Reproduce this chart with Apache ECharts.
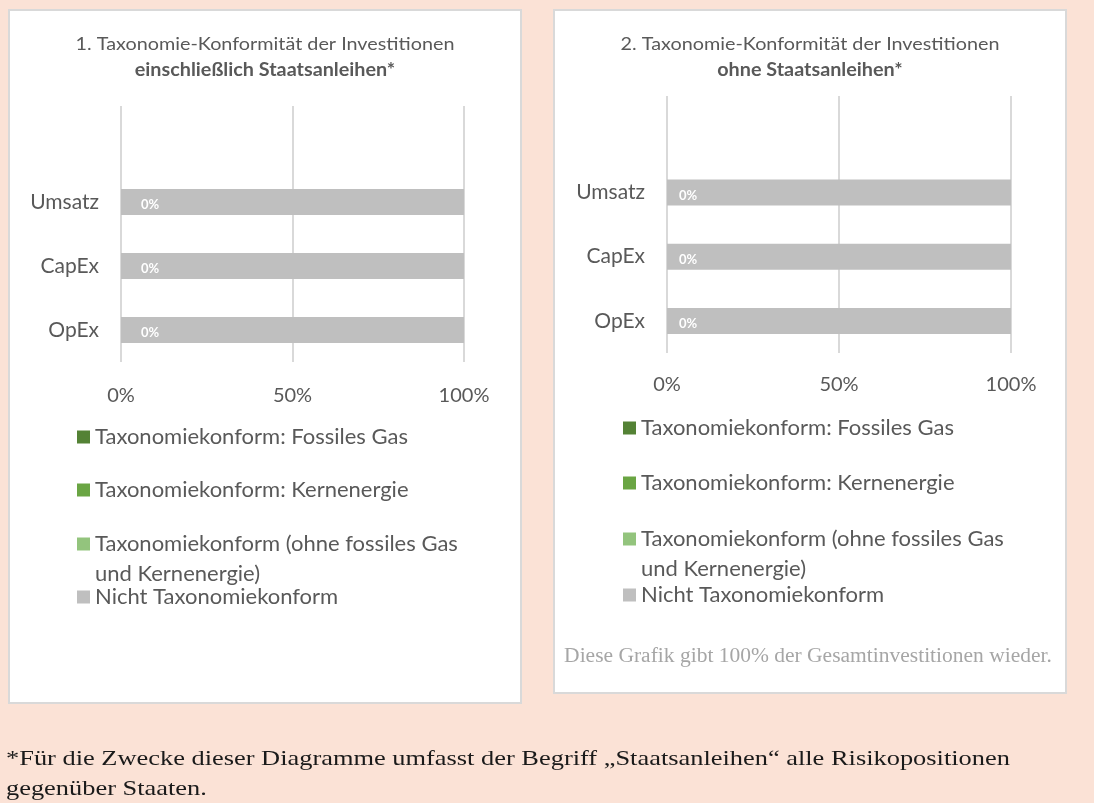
<!DOCTYPE html>
<html>
<head>
<meta charset="utf-8">
<title>Taxonomie-Konformität</title>
<script src="https://cdn.jsdelivr.net/npm/echarts@6.0.0/dist/echarts.min.js"></script>
<style>
  html, body { margin: 0; padding: 0; background: #fbe2d6; }
  .chart { width: 1094px; height: 803px; }
</style>
</head>
<body>
<div class="chart"></div>
<script>
// Daten
var categories = ["Umsatz", "CapEx", "OpEx"];
var seriesNames = [
  "Taxonomiekonform: Fossiles Gas",
  "Taxonomiekonform: Kernenergie",
  "Taxonomiekonform (ohne fossiles Gas und Kernenergie)",
  "Nicht Taxonomiekonform"
];
var xTicks = [0, 50, 100];
// 1. einschließlich Staatsanleihen
var gas1 = [0, 0, 0];
var nuclear1 = [0, 0, 0];
var aligned1 = [0, 0, 0];
var notAligned1 = [100, 100, 100];
// 2. ohne Staatsanleihen
var gas2 = [0, 0, 0];
var nuclear2 = [0, 0, 0];
var aligned2 = [0, 0, 0];
var notAligned2 = [100, 100, 100];

(function () {
  var myChart = echarts.init(document.querySelector(".chart"));
  var colors = ["#548235", "#6aa543", "#93c47d", "#bfbfbf"];
  var textColor = "#595959";
  var font = "Lato, 'Open Sans', sans-serif";
  var serif = "'Liberation Serif', 'Times New Roman', serif";

  // Excel-Diagramm hat oben eine leere Zeile
  var axisData = [""].concat(categories);

  function makeSeries(idx, rows, labelDist) {
    return rows.map(function (vals, i) {
      var isGreen = i < 3;
      return {
        name: seriesNames[i],
        type: "bar",
        stack: "s" + idx,
        xAxisIndex: idx,
        yAxisIndex: idx,
        barWidth: 26,
        z: isGreen ? 3 : 2,
        itemStyle: { color: colors[i] },
        label: {
          show: i === 2,
          position: "insideLeft",
          distance: labelDist,
          offset: [0, 3],
          formatter: "{c}%",
          color: "#ffffff",
          fontWeight: "bold",
          fontSize: 13,
          fontFamily: font
        },
        data: ["-"].concat(vals)
      };
    });
  }

  function makeX(idx, margin) {
    return {
      gridIndex: idx,
      type: "value",
      min: xTicks[0],
      max: xTicks[xTicks.length - 1],
      interval: xTicks[1] - xTicks[0],
      axisLine: { show: false },
      axisTick: { show: false },
      axisLabel: {
        formatter: "{value}%",
        color: textColor,
        fontSize: 20,
        fontFamily: font,
        margin: margin
      },
      splitLine: { lineStyle: { color: "#d9d9d9", width: 2 } }
    };
  }

  function makeY(idx) {
    return {
      gridIndex: idx,
      type: "category",
      inverse: true,
      data: axisData,
      axisLine: { show: false },
      axisTick: { show: false },
      splitLine: { show: false },
      axisLabel: {
        color: textColor,
        fontSize: 21,
        fontFamily: font,
        margin: 22
      }
    };
  }

  // Legende: je Eintrag eine eigene Zeile wie in Excel
  function makeLegends(left, centers) {
    return seriesNames.map(function (name, i) {
      var twoLines = i === 2;
      return {
        data: [name],
        orient: "vertical",
        left: left,
        top: twoLines ? centers[i] - 45 : centers[i] - 12,
        padding: 0,
        icon: "rect",
        itemWidth: 13,
        itemHeight: 13,
        formatter: function (n) {
          // leere erste Zeile, damit das Symbol auf Höhe der ersten Textzeile sitzt
          return twoLines ? "\n" + n.replace(" und ", "\nund ") : n;
        },
        textStyle: {
          color: textColor,
          fontSize: 22,
          fontFamily: font,
          lineHeight: twoLines ? 30 : 24
        }
      };
    });
  }

  function text(str, x, y, opt, scaleX) {
    return {
      type: "text",
      z: 5,
      x: x,
      y: y,
      scaleX: scaleX || 1,
      style: Object.assign({
        text: str,
        x: 0,
        y: 0,
        align: "center",
        textAlign: "center",
        verticalAlign: "middle",
        textVerticalAlign: "middle",
        fill: textColor,
        font: "18px " + font
      }, opt || {})
    };
  }

  var option = {
    backgroundColor: "#fbe2d6",
    animation: false,
    grid: [
      { left: 121, top: 106, width: 343, height: 256 },
      { left: 667, top: 96, width: 344, height: 257 }
    ],
    xAxis: [makeX(0, 24), makeX(1, 22)],
    yAxis: [makeY(0), makeY(1)],
    legend: makeLegends(77, [437, 490, 544, 597]).concat(
      makeLegends(623, [428, 483, 539, 595])
    ),
    graphic: {
      elements: [
        {
          type: "rect", z: -10,
          shape: { x: 9, y: 10, width: 512, height: 693 },
          style: { fill: "#ffffff", stroke: "#d9d9d9", lineWidth: 2 }
        },
        {
          type: "rect", z: -10,
          shape: { x: 554, y: 10, width: 512, height: 683 },
          style: { fill: "#ffffff", stroke: "#d9d9d9", lineWidth: 2 }
        },
        text("1. Taxonomie-Konformität der Investitionen", 265, 44, null, 1.1),
        text("einschließlich Staatsanleihen*", 265, 70, { font: "bold 18px " + font }, 1.1),
        text("2. Taxonomie-Konformität der Investitionen", 810, 44, null, 1.1),
        text("ohne Staatsanleihen*", 810, 70, { font: "bold 18px " + font }, 1.1),
        text("Diese Grafik gibt 100% der Gesamtinvestitionen wieder.", 808, 657, {
          fill: "#a6a6a6",
          font: "20px " + serif
        }, 1.075),
        text("*Für die Zwecke dieser Diagramme umfasst der Begriff „Staatsanleihen“ alle Risikopositionen\ngegenüber Staaten.", 6, 774, {
          align: "left",
          textAlign: "left",
          fill: "#1a1a1a",
          lineHeight: 30,
          font: "22px " + serif
        }, 1.2)
      ]
    },
    series: makeSeries(0, [gas1, nuclear1, aligned1, notAligned1], 20).concat(
      makeSeries(1, [gas2, nuclear2, aligned2, notAligned2], 12)
    )
  };

  myChart.setOption(option);
  window.addEventListener("resize", function () {
    myChart.resize();
  });
})();
</script>
</body>
</html>
